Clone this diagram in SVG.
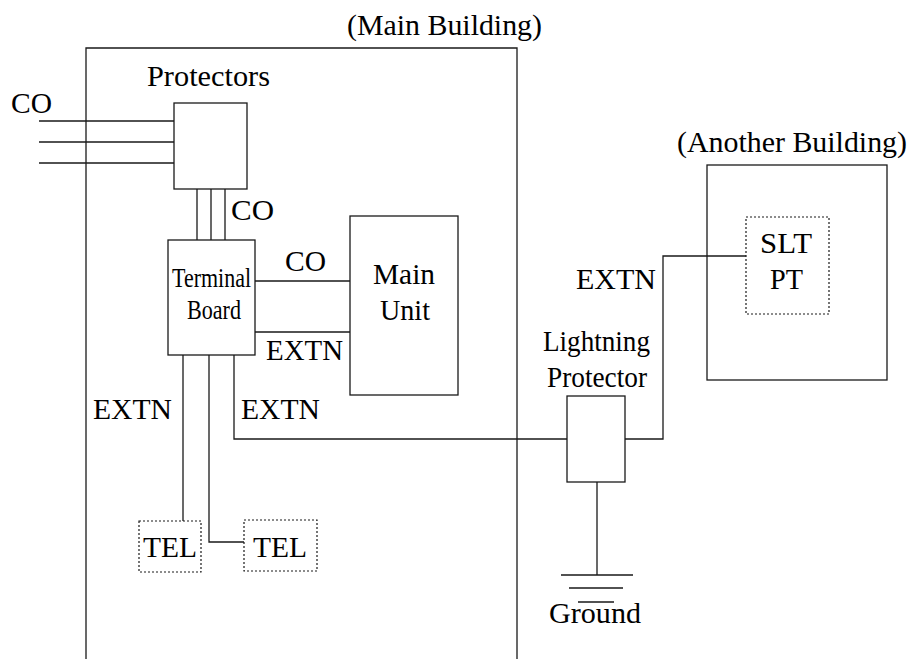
<svg xmlns="http://www.w3.org/2000/svg" width="912" height="659" viewBox="0 0 912 659">
<style>
.ln{fill:none;stroke:#1a1a1a;stroke-width:1.3}
.box{fill:#fff;stroke:#1a1a1a;stroke-width:1.3}
.dot{fill:#fff;stroke:#1a1a1a;stroke-width:1.2;stroke-dasharray:2 2}
text{font-family:"Liberation Serif","Times New Roman",serif;font-size:29px;fill:#000}
</style>
<rect width="912" height="659" fill="#fff"/>
<g id="main-building">
<path class="ln" d="M86,659 V48 H517 V659"/>
<text x="347" y="35" textLength="195" lengthAdjust="spacingAndGlyphs">(Main Building)</text>
</g>
<g id="connectors">
<path class="ln" d="M39,121 H174 M39,142 H174 M39,163 H174"/>
<path class="ln" d="M197,189 V240 M211,189 V240 M225,189 V240"/>
<path class="ln" d="M255,281 H350 M255,332 H350"/>
<path class="ln" d="M183,355 V521 M209,355 V542 H244"/>
<path class="ln" d="M234,355 V439 H567 M625,439 H663 V256 H746"/>
<path class="ln" d="M597,482 V575 M561,575 H633 M569,588 H623 M578,602 H614"/>
<text x="11" y="113" textLength="41" lengthAdjust="spacingAndGlyphs">CO</text>
<text x="231" y="220" textLength="43" lengthAdjust="spacingAndGlyphs">CO</text>
<text x="285" y="271" textLength="41" lengthAdjust="spacingAndGlyphs">CO</text>
<text x="266" y="360" textLength="77" lengthAdjust="spacingAndGlyphs">EXTN</text>
<text x="93" y="419" textLength="79" lengthAdjust="spacingAndGlyphs">EXTN</text>
<text x="241" y="419" textLength="79" lengthAdjust="spacingAndGlyphs">EXTN</text>
<text x="576" y="289" textLength="80" lengthAdjust="spacingAndGlyphs">EXTN</text>
</g>
<g id="protectors">
<rect class="box" x="174" y="103" width="73" height="86"/>
<text x="147" y="86" textLength="123" lengthAdjust="spacingAndGlyphs">Protectors</text>
</g>
<g id="terminal-board">
<rect class="box" x="168" y="240" width="87" height="115"/>
<text x="172" y="287" textLength="79" lengthAdjust="spacingAndGlyphs" style="font-size:27px">Terminal</text>
<text x="187" y="319" textLength="54" lengthAdjust="spacingAndGlyphs" style="font-size:27px">Board</text>
</g>
<g id="main-unit">
<rect class="box" x="350" y="216" width="108" height="179"/>
<text x="373" y="284" textLength="62" lengthAdjust="spacingAndGlyphs">Main</text>
<text x="380" y="320" textLength="50" lengthAdjust="spacingAndGlyphs">Unit</text>
</g>
<g id="tel1">
<rect class="dot" x="139" y="521" width="62" height="51"/>
<text x="143" y="557" textLength="54" lengthAdjust="spacingAndGlyphs">TEL</text>
</g>
<g id="tel2">
<rect class="dot" x="244" y="520" width="73" height="51"/>
<text x="253" y="557" textLength="54" lengthAdjust="spacingAndGlyphs">TEL</text>
</g>
<g id="lightning-protector">
<rect class="box" x="567" y="396" width="58" height="86"/>
<text x="543" y="351" textLength="107" lengthAdjust="spacingAndGlyphs">Lightning</text>
<text x="547" y="387" textLength="100" lengthAdjust="spacingAndGlyphs">Protector</text>
</g>
<g id="ground">
<text x="549" y="623" textLength="92" lengthAdjust="spacingAndGlyphs">Ground</text>
</g>
<g id="another-building">
<rect class="ln" x="707" y="165" width="180" height="215"/>
<text x="677" y="152" textLength="230" lengthAdjust="spacingAndGlyphs">(Another Building)</text>
</g>
<g id="slt-pt">
<rect class="dot" x="746" y="217" width="83" height="97"/>
<text x="760" y="253" textLength="52" lengthAdjust="spacingAndGlyphs">SLT</text>
<text x="770" y="289" textLength="33" lengthAdjust="spacingAndGlyphs">PT</text>
</g>
</svg>
